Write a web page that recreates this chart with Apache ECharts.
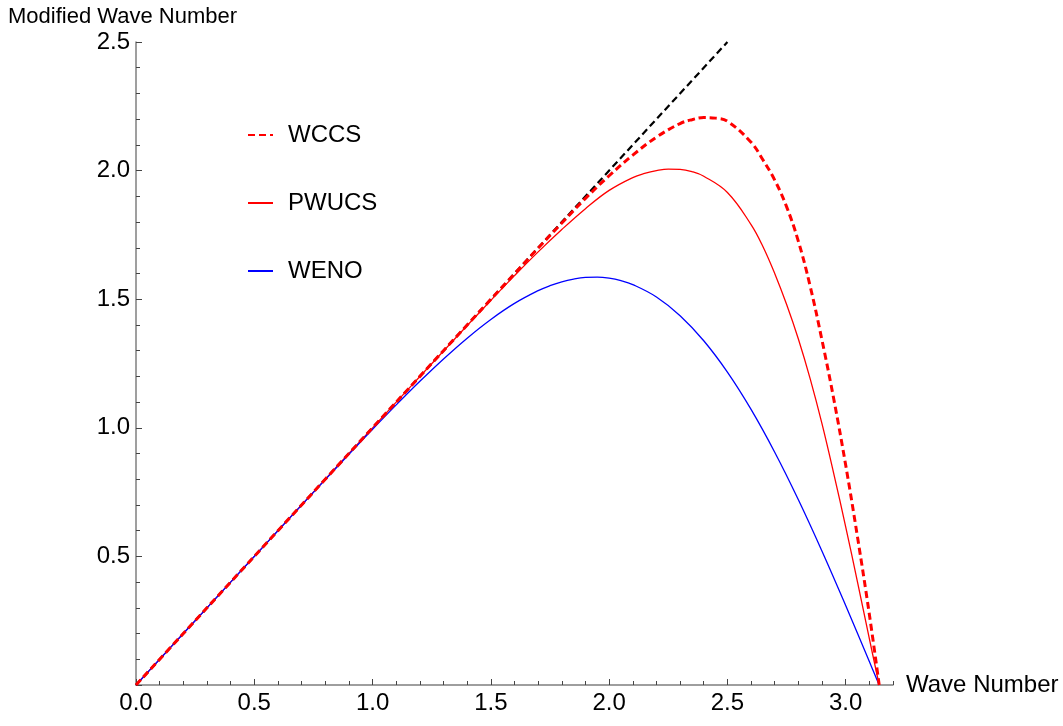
<!DOCTYPE html>
<html>
<head>
<meta charset="utf-8">
<script src="https://cdn.jsdelivr.net/npm/echarts@6/dist/echarts.min.js"></script>
<style>
  html, body { margin: 0; padding: 0; background: #ffffff; }
  #chart { width: 1063px; height: 726px; }
</style>
</head>
<body>
<div id="chart"></div>
<script>
// Axis tick values
const xMajorTicks = [0, 0.5, 1.0, 1.5, 2.0, 2.5, 3.0];
const yMajorTicks = [0.5, 1.0, 1.5, 2.0, 2.5];

// Exact (spectral) reference line: modified wave number equals wave number
const exactK = [0, 2.5];
const exactV = [0, 2.5];

// WCCS scheme
const wccsK = [0, 0.2, 0.4, 0.6, 0.8, 1.0, 1.2, 1.4, 1.5, 1.6, 1.7, 1.8, 1.9, 2.0, 2.1, 2.2, 2.3, 2.35, 2.4, 2.45, 2.5, 2.6, 2.65, 2.7, 2.75, 2.8, 2.85, 2.9, 2.95, 3.0, 3.05, 3.1, 3.1416];
const wccsV = [0, 0.2, 0.4, 0.6, 0.8, 1.0, 1.2, 1.3998, 1.4995, 1.5985, 1.699, 1.796, 1.892, 1.980, 2.060, 2.130, 2.183, 2.198, 2.206, 2.204, 2.192, 2.110, 2.042, 1.963, 1.860, 1.725, 1.550, 1.340, 1.110, 0.855, 0.575, 0.275, 0];

// PWUCS scheme
const pwucsK = [0, 0.2, 0.4, 0.6, 0.8, 1.0, 1.1, 1.2, 1.3, 1.4, 1.5, 1.6, 1.7, 1.8, 1.9, 2.0, 2.1, 2.15, 2.2, 2.25, 2.3, 2.35, 2.4, 2.5, 2.6, 2.65, 2.7, 2.75, 2.8, 2.85, 2.9, 2.95, 3.0, 3.05, 3.1, 3.1416];
const pwucsV = [0, 0.2, 0.4, 0.6, 0.8, 0.9998, 1.0996, 1.1993, 1.2986, 1.3975, 1.4955, 1.5915, 1.684, 1.771, 1.852, 1.923, 1.973, 1.989, 2.000, 2.006, 2.005, 1.996, 1.978, 1.915, 1.790, 1.705, 1.600, 1.480, 1.345, 1.190, 1.015, 0.820, 0.615, 0.400, 0.180, 0];

// WENO scheme
const wenoK = [0, 0.1, 0.2, 0.3, 0.4, 0.5, 0.6, 0.7, 0.8, 0.9, 1.0, 1.1, 1.2, 1.3, 1.4, 1.5, 1.6, 1.7, 1.75, 1.8, 1.85, 1.9, 1.95, 2.0, 2.05, 2.1, 2.2, 2.3, 2.4, 2.5, 2.6, 2.7, 2.8, 2.9, 3.0, 3.1, 3.1416];
const wenoV = [0, 0.1, 0.2, 0.3, 0.3999, 0.4998, 0.5998, 0.6994, 0.7987, 0.8968, 0.9941, 1.0890, 1.1807, 1.2677, 1.3486, 1.4213, 1.4837, 1.5333, 1.5526, 1.5678, 1.5782, 1.5846, 1.5858, 1.5817, 1.5721, 1.5568, 1.5086, 1.4359, 1.3385, 1.2166, 1.0716, 0.9052, 0.7204, 0.5203, 0.3092, 0.0914, 0];

const pairs = (ks, vs) => ks.map((k, i) => [k, vs[i]]);

const FONT = "'Liberation Sans', Arial, sans-serif";
const AXIS_GRAY = '#7f7f7f';
const TICK_COLOR = '#444444';

const chart = echarts.init(document.getElementById('chart'), null, { renderer: 'canvas' });

chart.setOption({
  animation: false,
  backgroundColor: '#ffffff',
  textStyle: { fontFamily: FONT },
  title: {
    text: 'Modified Wave Number',
    left: 8,
    top: 6,
    padding: 0,
    textStyle: { fontFamily: FONT, fontSize: 22, fontWeight: 'normal', color: '#000' }
  },
  grid: { left: 136, top: 42, width: 757, bottom: 41, containLabel: false },
  legend: {
    data: ['WCCS', 'PWUCS', 'WENO'],
    orient: 'vertical',
    left: 247,
    top: 123,
    padding: 0,
    itemGap: 44,
    itemWidth: 25,
    itemHeight: 14,
    // line-only keys: the marker dot is made invisible
    itemStyle: { opacity: 0 },
    textStyle: { fontFamily: FONT, fontSize: 24, color: '#000', lineHeight: 24, padding: [0, 0, 0, 10] }
  },
  xAxis: [
    {
      // minor ticks every 0.1, carries the axis line
      type: 'value',
      position: 'bottom',
      min: 0,
      max: 3.2,
      interval: 0.1,
      axisLine: { show: true, onZero: false, lineStyle: { color: AXIS_GRAY, width: 1.5 } },
      axisTick: { show: true, inside: true, length: 4, lineStyle: { color: TICK_COLOR, width: 1 } },
      axisLabel: { show: false },
      splitLine: { show: false },
      name: 'Wave Number',
      nameLocation: 'end',
      nameGap: 13,
      nameTextStyle: { fontFamily: FONT, fontSize: 24, color: '#000', verticalAlign: 'middle' }
    },
    {
      // major ticks and labels every 0.5
      type: 'value',
      position: 'bottom',
      min: 0,
      max: 3.2,
      interval: 0.5,
      axisLine: { show: false, onZero: false },
      axisTick: { show: true, inside: true, length: 6, customValues: xMajorTicks, lineStyle: { color: TICK_COLOR, width: 1 } },
      axisLabel: {
        show: true,
        customValues: xMajorTicks,
        margin: 6,
        fontFamily: FONT,
        fontSize: 24,
        color: '#000',
        formatter: v => v.toFixed(1)
      },
      splitLine: { show: false }
    }
  ],
  yAxis: {
    type: 'value',
    min: 0,
    max: 2.5,
    interval: 0.5,
    axisLine: { show: true, onZero: false, lineStyle: { color: AXIS_GRAY, width: 1.5 } },
    axisTick: { show: true, inside: true, length: 6, lineStyle: { color: TICK_COLOR, width: 1 } },
    minorTick: { show: true, splitNumber: 5, length: 4, lineStyle: { color: TICK_COLOR, width: 1 } },
    axisLabel: {
      customValues: yMajorTicks,
      margin: 6,
      fontFamily: FONT,
      fontSize: 24,
      color: '#000',
      formatter: v => v.toFixed(1)
    },
    splitLine: { show: false },
    minorSplitLine: { show: false }
  },
  series: [
    {
      name: 'Exact',
      type: 'line',
      xAxisIndex: 0,
      data: pairs(exactK, exactV),
      symbol: 'none',
      lineStyle: { color: '#000000', width: 2.2, type: [7, 4] },
      z: 1
    },
    {
      name: 'WCCS',
      type: 'line',
      xAxisIndex: 0,
      data: pairs(wccsK, wccsV),
      symbol: 'none',
      smooth: 0.4,
      color: '#ff0000',
      lineStyle: { color: '#ff0000', width: 3, type: [7, 4] },
      z: 3
    },
    {
      name: 'PWUCS',
      type: 'line',
      xAxisIndex: 0,
      data: pairs(pwucsK, pwucsV),
      symbol: 'none',
      smooth: 0.4,
      color: '#ff0000',
      lineStyle: { color: '#ff0000', width: 1.3 },
      z: 2
    },
    {
      name: 'WENO',
      type: 'line',
      xAxisIndex: 0,
      data: pairs(wenoK, wenoV),
      symbol: 'none',
      smooth: 0.4,
      color: '#0000ff',
      lineStyle: { color: '#0000ff', width: 1.3 },
      z: 2
    }
  ]
});
</script>
</body>
</html>
